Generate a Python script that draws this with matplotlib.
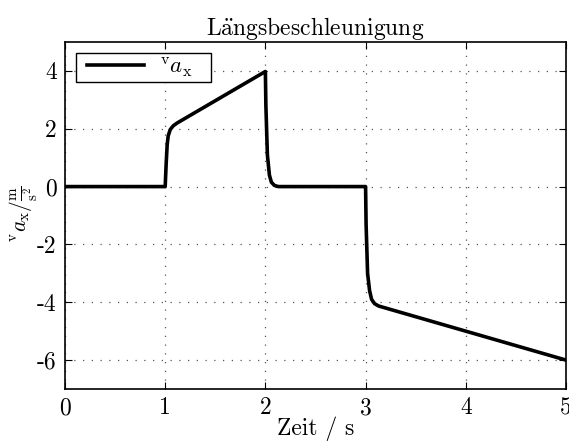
import matplotlib
matplotlib.use("Agg")
import numpy as np
import matplotlib.pyplot as plt
from matplotlib.legend_handler import HandlerLine2D
from matplotlib.offsetbox import DrawingArea

# Longitudinal acceleration over time (points along the curve)
zeit = [0.0, 1.0, 1.01, 1.02, 1.03, 1.05, 1.08, 1.12, 2.0,
        2.005, 2.02, 2.04, 2.06, 2.09, 2.13, 3.0,
        3.005, 3.02, 3.04, 3.06, 3.09, 3.13, 5.0]
ax_vals = [0.0, 0.0, 0.8, 1.45, 1.75, 1.97, 2.1, 2.2, 3.98,
           2.8, 1.1, 0.4, 0.15, 0.04, 0.0, 0.0,
           -1.3, -3.0, -3.6, -3.9, -4.05, -4.13, -6.0]

x_ticks = [0, 1, 2, 3, 4, 5]
y_ticks = [-6, -4, -2, 0, 2, 4]


class InsetLineHandler(HandlerLine2D):
    """Legend line that starts a little to the right of the handle box."""

    def __init__(self, inset=0.4, **kw):
        super().__init__(**kw)
        self.inset = inset

    def create_artists(self, legend, orig_handle, xdescent, ydescent,
                       width, height, fontsize, trans):
        artists = super().create_artists(legend, orig_handle, xdescent,
                                         ydescent, width, height, fontsize,
                                         trans)
        legline = artists[0]
        xd = np.asarray(legline.get_xdata(), dtype=float)
        if xd.size >= 2:
            legline.set_xdata(np.linspace(xd[0] + self.inset * fontsize,
                                          xd[-1], xd.size))
        return artists


plt.rcParams.update({
    "font.family": ["cmr10", "DejaVu Serif"],
    "mathtext.fontset": "cm",
    "axes.unicode_minus": False,
    "font.size": 17,
})

fig = plt.figure(figsize=(5.69, 4.42), dpi=100)
ax = fig.add_axes([0.1142, 0.1199, 0.8805, 0.7851])

line, = ax.plot(zeit, ax_vals, color="black", linewidth=2.6,
                solid_joinstyle="round",
                label=r"$^{\mathrm{v}}a_{\mathrm{x}}$")

ax.set_xlim(0, 5)
ax.set_ylim(-7, 5)
ax.set_xticks(x_ticks)
ax.set_yticks(y_ticks)
ax.set_xticklabels([str(v) for v in x_ticks])
ax.set_yticklabels([str(v) for v in y_ticks])
ax.tick_params(direction="in", top=True, right=True, length=5,
               width=0.8, labelsize=17, pad=6)
ax.grid(True, linestyle=(0, (1, 6)), color="#555555", linewidth=0.9)

for s in ax.spines.values():
    s.set_linewidth(1.2)

ax.set_title(r"L$\mathrm{\ddot{a}}$ngsbeschleunigung", fontsize=17, pad=5)
ax.set_xlabel("Zeit / s", fontsize=17, labelpad=-2)
ax.set_ylabel(r"$^{\mathrm{v}}a_{\mathrm{x}}/\frac{\mathrm{m}}{\mathrm{s}^2}$",
              fontsize=15.5)
ax.yaxis.set_label_coords(-0.05, 0.504)

leg = ax.legend(handler_map={line: InsetLineHandler(inset=0.38)},
                loc="upper left", fancybox=False, framealpha=1,
                edgecolor="black", handlelength=2.85, borderpad=0.1,
                fontsize=16.5, borderaxespad=0.5, handletextpad=0.65)
leg.get_frame().set_linewidth(1.0)

# extra room to the right of the legend text
for col in leg._legend_handle_box.get_children():
    for row in col.get_children():
        row.get_children().append(DrawingArea(1.0, 1.0))

fig.savefig("out.png", dpi=100)
